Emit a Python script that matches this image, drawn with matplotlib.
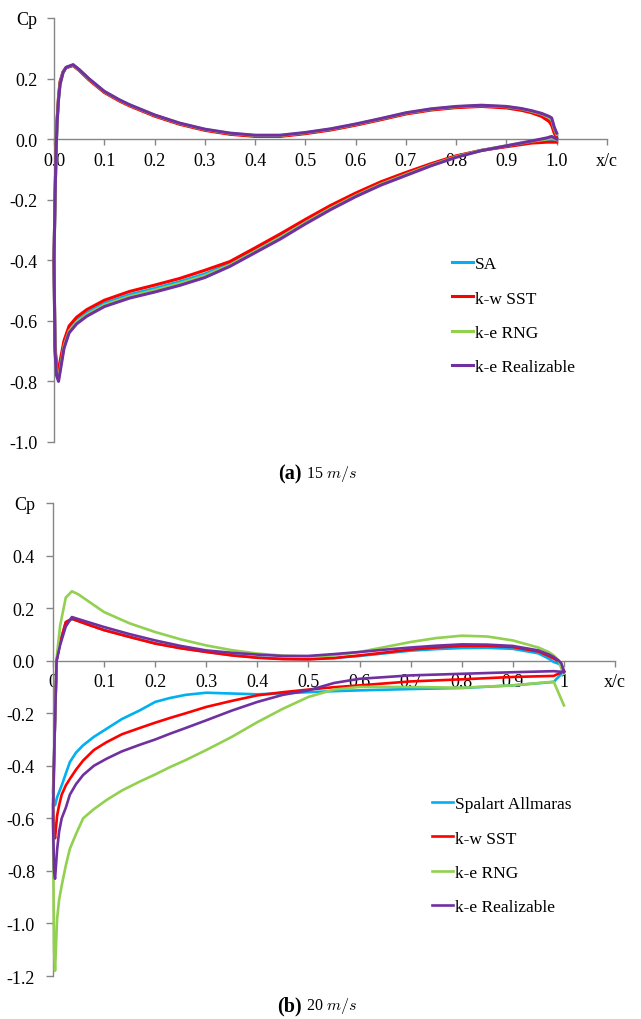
import numpy as np
import matplotlib
matplotlib.use("Agg")
import matplotlib.pyplot as plt

plt.rcParams['font.family'] = ['Liberation Serif', 'DejaVu Serif']
plt.rcParams['mathtext.fontset'] = 'cm'

# ---------------- data: (a) 15 m/s ----------------
models_a = ["SA", "k-w SST", "k-e RNG", "k-e Realizable"]
xa_up = [1.0, 0.995, 0.99, 0.985, 0.97, 0.95, 0.93, 0.9, 0.85, 0.8, 0.75, 0.7, 0.65, 0.6,
         0.55, 0.5, 0.45, 0.4, 0.35, 0.3, 0.25, 0.2, 0.15, 0.13, 0.1, 0.07, 0.05, 0.038,
         0.024, 0.018, 0.012, 0.009, 0.006, 0.004, 0.002, 0.0]
xa_lo = [0.0, 0.002, 0.005, 0.009, 0.013, 0.02, 0.03, 0.045, 0.065, 0.1, 0.15, 0.2, 0.25,
         0.3, 0.35, 0.4, 0.45, 0.5, 0.55, 0.6, 0.65, 0.7, 0.75, 0.8, 0.85, 0.9, 0.95, 0.98,
         0.99, 1.0]

sa_a_up = [0.012, 0.030, 0.058, 0.066, 0.080, 0.090, 0.098, 0.105, 0.110, 0.106, 0.098, 0.085,
           0.066, 0.048, 0.032, 0.020, 0.011, 0.011, 0.018, 0.031, 0.051, 0.078, 0.112, 0.128,
           0.156, 0.197, 0.228, 0.244, 0.236, 0.221, 0.185, 0.135, 0.055, -0.045, -0.200, -0.400]
sst_a_up = [0.005, 0.020, 0.045, 0.058, 0.075, 0.087, 0.095, 0.103, 0.108, 0.104, 0.096, 0.083,
            0.064, 0.046, 0.030, 0.018, 0.009, 0.009, 0.016, 0.029, 0.049, 0.076, 0.110, 0.126,
            0.154, 0.195, 0.227, 0.243, 0.236, 0.222, 0.190, 0.140, 0.060, -0.040, -0.200, -0.400]
rng_a_up = [0.016, 0.035, 0.064, 0.071, 0.083, 0.092, 0.100, 0.107, 0.111, 0.107, 0.099, 0.086,
            0.067, 0.049, 0.033, 0.021, 0.012, 0.012, 0.019, 0.032, 0.052, 0.079, 0.113, 0.129,
            0.157, 0.198, 0.229, 0.245, 0.237, 0.220, 0.182, 0.132, 0.052, -0.048, -0.200, -0.400]
rea_a_up = [0.020, 0.040, 0.070, 0.075, 0.085, 0.094, 0.101, 0.108, 0.112, 0.108, 0.100, 0.087,
            0.068, 0.050, 0.034, 0.022, 0.013, 0.013, 0.020, 0.033, 0.053, 0.080, 0.114, 0.130,
            0.158, 0.199, 0.230, 0.246, 0.237, 0.220, 0.180, 0.130, 0.050, -0.050, -0.200, -0.400]

sa_a_lo = [-0.4, -0.69, -0.76, -0.78, -0.742, -0.677, -0.628, -0.599, -0.574, -0.542, -0.514,
           -0.493, -0.471, -0.445, -0.412, -0.367, -0.321, -0.272, -0.226, -0.184, -0.146,
           -0.115, -0.084, -0.057, -0.037, -0.023, -0.009, -0.003, -0.002, -0.005]
sst_a_lo = [-0.4, -0.68, -0.74, -0.76, -0.725, -0.665, -0.617, -0.588, -0.563, -0.532, -0.503,
            -0.482, -0.460, -0.433, -0.404, -0.359, -0.313, -0.265, -0.219, -0.178, -0.141,
            -0.110, -0.081, -0.055, -0.037, -0.025, -0.013, -0.010, -0.010, -0.010]
rng_a_lo = [-0.4, -0.695, -0.77, -0.79, -0.751, -0.683, -0.634, -0.604, -0.580, -0.548, -0.520,
            -0.499, -0.477, -0.451, -0.416, -0.371, -0.325, -0.276, -0.229, -0.187, -0.149,
            -0.117, -0.086, -0.058, -0.037, -0.022, -0.007, 0.000, 0.004, -0.002]
rea_a_lo = [-0.4, -0.70, -0.78, -0.80, -0.76, -0.69, -0.64, -0.61, -0.585, -0.553, -0.525,
            -0.505, -0.483, -0.457, -0.420, -0.375, -0.330, -0.280, -0.233, -0.190, -0.152,
            -0.120, -0.088, -0.060, -0.038, -0.022, -0.006, 0.004, 0.009, 0.0]

# ---------------- data: (b) 20 m/s ----------------
models_b = ["Spalart Allmaras", "k-w SST", "k-e RNG", "k-e Realizable"]
xb_up = [1.0, 0.995, 0.99, 0.98, 0.97, 0.95, 0.9, 0.85, 0.8, 0.75, 0.7, 0.65, 0.6, 0.55, 0.5,
         0.45, 0.4, 0.35, 0.3, 0.25, 0.2, 0.15, 0.1, 0.07, 0.05, 0.037, 0.025, 0.014, 0.007,
         0.003, 0.0]
xb_lo = [0.0, 0.002, 0.004, 0.008, 0.012, 0.017, 0.025, 0.033, 0.045, 0.059, 0.08, 0.105,
         0.135, 0.17, 0.2, 0.229, 0.26, 0.3, 0.35, 0.4, 0.45, 0.5, 0.55, 0.6, 0.7, 0.8, 0.9,
         0.98, 1.0]

sa_b_up = [-0.04, -0.02, -0.012, -0.005, 0.008, 0.028, 0.045, 0.049, 0.048, 0.044, 0.038, 0.028,
           0.018, 0.010, 0.006, 0.007, 0.012, 0.021, 0.034, 0.048, 0.066, 0.091, 0.117, 0.137,
           0.151, 0.158, 0.145, 0.070, 0.0, -0.3, -0.5]
sst_b_up = [-0.04, -0.015, -0.003, 0.008, 0.018, 0.035, 0.052, 0.056, 0.056, 0.050, 0.042, 0.031,
            0.020, 0.010, 0.005, 0.006, 0.011, 0.020, 0.033, 0.047, 0.065, 0.090, 0.116, 0.136,
            0.150, 0.160, 0.147, 0.070, 0.0, -0.3, -0.55]
rng_b_up = [-0.05, -0.03, 0.0, 0.020, 0.033, 0.050, 0.077, 0.092, 0.095, 0.086, 0.071, 0.052,
            0.033, 0.020, 0.016, 0.019, 0.027, 0.040, 0.058, 0.081, 0.109, 0.142, 0.185, 0.225,
            0.252, 0.264, 0.240, 0.134, 0.008, -0.3, -0.6]
rea_b_up = [-0.043, -0.01, 0.0, 0.014, 0.024, 0.039, 0.056, 0.061, 0.062, 0.057, 0.050, 0.042,
            0.033, 0.025, 0.018, 0.018, 0.023, 0.030, 0.039, 0.056, 0.077, 0.101, 0.128, 0.146,
            0.158, 0.166, 0.130, 0.060, 0.0, -0.3, -0.6]

sa_b_lo = [-0.5, -0.54, -0.55, -0.52, -0.50, -0.475, -0.43, -0.386, -0.35, -0.322, -0.29,
           -0.259, -0.222, -0.189, -0.157, -0.142, -0.130, -0.122, -0.125, -0.128, -0.124,
           -0.120, -0.116, -0.113, -0.108, -0.104, -0.094, -0.081, -0.04]
sst_b_lo = [-0.55, -0.65, -0.676, -0.59, -0.55, -0.51, -0.475, -0.45, -0.415, -0.38, -0.34,
            -0.31, -0.28, -0.256, -0.236, -0.218, -0.200, -0.176, -0.153, -0.132, -0.120,
            -0.110, -0.101, -0.094, -0.079, -0.071, -0.062, -0.058, -0.04]
rng_b_lo = [-0.6, -1.10, -1.18, -0.983, -0.91, -0.856, -0.78, -0.716, -0.66, -0.60, -0.565,
            -0.53, -0.494, -0.46, -0.433, -0.405, -0.378, -0.340, -0.290, -0.234, -0.183,
            -0.138, -0.110, -0.100, -0.100, -0.103, -0.094, -0.080, -0.17]
rea_b_lo = [-0.6, -0.80, -0.83, -0.72, -0.65, -0.60, -0.56, -0.51, -0.47, -0.435, -0.40,
            -0.373, -0.345, -0.320, -0.300, -0.278, -0.256, -0.227, -0.190, -0.157, -0.130,
            -0.113, -0.085, -0.069, -0.056, -0.050, -0.044, -0.040, -0.043]

colors = ["#00B0F0", "#FF0000", "#92D050", "#7030A0"]

xticks_a = [0.0, 0.1, 0.2, 0.3, 0.4, 0.5, 0.6, 0.7, 0.8, 0.9, 1.0, 1.1]
xlabels_a = ["0.0", "0.1", "0.2", "0.3", "0.4", "0.5", "0.6", "0.7", "0.8", "0.9", "1.0", "x/c"]
yticks_a = [-1.0, -0.8, -0.6, -0.4, -0.2, 0.0, 0.2, 0.4]
ylabels_a = ["-1.0", "-0.8", "-0.6", "-0.4", "-0.2", "0.0", "0.2", "Cp"]

xticks_b = [0.0, 0.1, 0.2, 0.3, 0.4, 0.5, 0.6, 0.7, 0.8, 0.9, 1.0, 1.1]
xlabels_b = ["0", "0.1", "0.2", "0.3", "0.4", "0.5", "0.6", "0.7", "0.8", "0.9", "1", "x/c"]
yticks_b = [-1.2, -1.0, -0.8, -0.6, -0.4, -0.2, 0.0, 0.2, 0.4, 0.6]
ylabels_b = ["-1.2", "-1.0", "-0.8", "-0.6", "-0.4", "-0.2", "0.0", "0.2", "0.4", "Cp"]

GRAY = "#868686"
FS = 13

fig = plt.figure(figsize=(6.41, 10.20), dpi=100)
ax1 = fig.add_axes([54/641, 1-443/1020, 553/641, 424/1020])
ax2 = fig.add_axes([53/641, 1-977/1020, 562/641, 473/1020])


def style(ax, xt, xl, yt, yl, ylim, ypad):
    ax.set_xlim(0, 1.1)
    ax.set_ylim(*ylim)
    ax.spines['top'].set_visible(False)
    ax.spines['right'].set_visible(False)
    ax.spines['bottom'].set_position(('data', 0.0))
    for s in ('left', 'bottom'):
        ax.spines[s].set_color(GRAY)
        ax.spines[s].set_linewidth(1.0)
    ax.set_xticks(xt)
    ax.set_xticklabels(xl)
    ax.set_yticks(yt)
    ax.set_yticklabels(yl)
    ax.tick_params(axis='x', direction='out', length=4, width=1, color=GRAY,
                   labelsize=FS, pad=5)
    ax.tick_params(axis='y', direction='out', length=5, width=1, color=GRAY,
                   labelsize=FS, pad=ypad)


style(ax1, xticks_a, xlabels_a, yticks_a, ylabels_a, (-1.0, 0.4), 7)
style(ax2, xticks_b, xlabels_b, yticks_b, ylabels_b, (-1.2, 0.6), 8)

ups_a = [sa_a_up, sst_a_up, rng_a_up, rea_a_up]
los_a = [sa_a_lo, sst_a_lo, rng_a_lo, rea_a_lo]
handles_a = []
for name, up, lo, c in zip(models_a, ups_a, los_a, colors):
    xs = np.concatenate([xa_up, xa_lo])
    ys = np.concatenate([up, lo])
    h, = ax1.plot(xs, ys, color=c, lw=2.2, label=name, zorder=3,
                  solid_joinstyle='round', clip_on=False)
    handles_a.append(h)

ups_b = [sa_b_up, sst_b_up, rng_b_up, rea_b_up]
los_b = [sa_b_lo, sst_b_lo, rng_b_lo, rea_b_lo]
handles_b = []
for name, up, lo, c in zip(models_b, ups_b, los_b, colors):
    xs = np.concatenate([xb_up, xb_lo])
    ys = np.concatenate([up, lo])
    h, = ax2.plot(xs, ys, color=c, lw=1.9, label=name, zorder=3,
                  solid_joinstyle='round', clip_on=False)
    handles_b.append(h)

leg_kw = dict(frameon=False, fontsize=12.5, handlelength=1.2, handletextpad=0.1,
              labelspacing=1.05, borderpad=0, borderaxespad=0, loc='upper left')
fig.legend(handles=handles_a, bbox_to_anchor=(452/641, 1-257/1020),
           bbox_transform=fig.transFigure, **leg_kw)
fig.legend(handles=handles_b, bbox_to_anchor=(432/641, 1-797/1020),
           bbox_transform=fig.transFigure, **leg_kw)

# captions
fig.text(302/641, 1-474/1020, "(a)", ha='right', va='center', fontsize=14.5,
         fontweight='bold')
fig.text(306/641, 1-474/1020, r"15 $m/s$", ha='left', va='center', fontsize=11.5)
fig.text(302/641, 1-1006/1020, "(b)", ha='right', va='center', fontsize=14.5,
         fontweight='bold')
fig.text(306/641, 1-1006/1020, r"20 $m/s$", ha='left', va='center', fontsize=11.5)

fig.savefig("out.png", dpi=100)
